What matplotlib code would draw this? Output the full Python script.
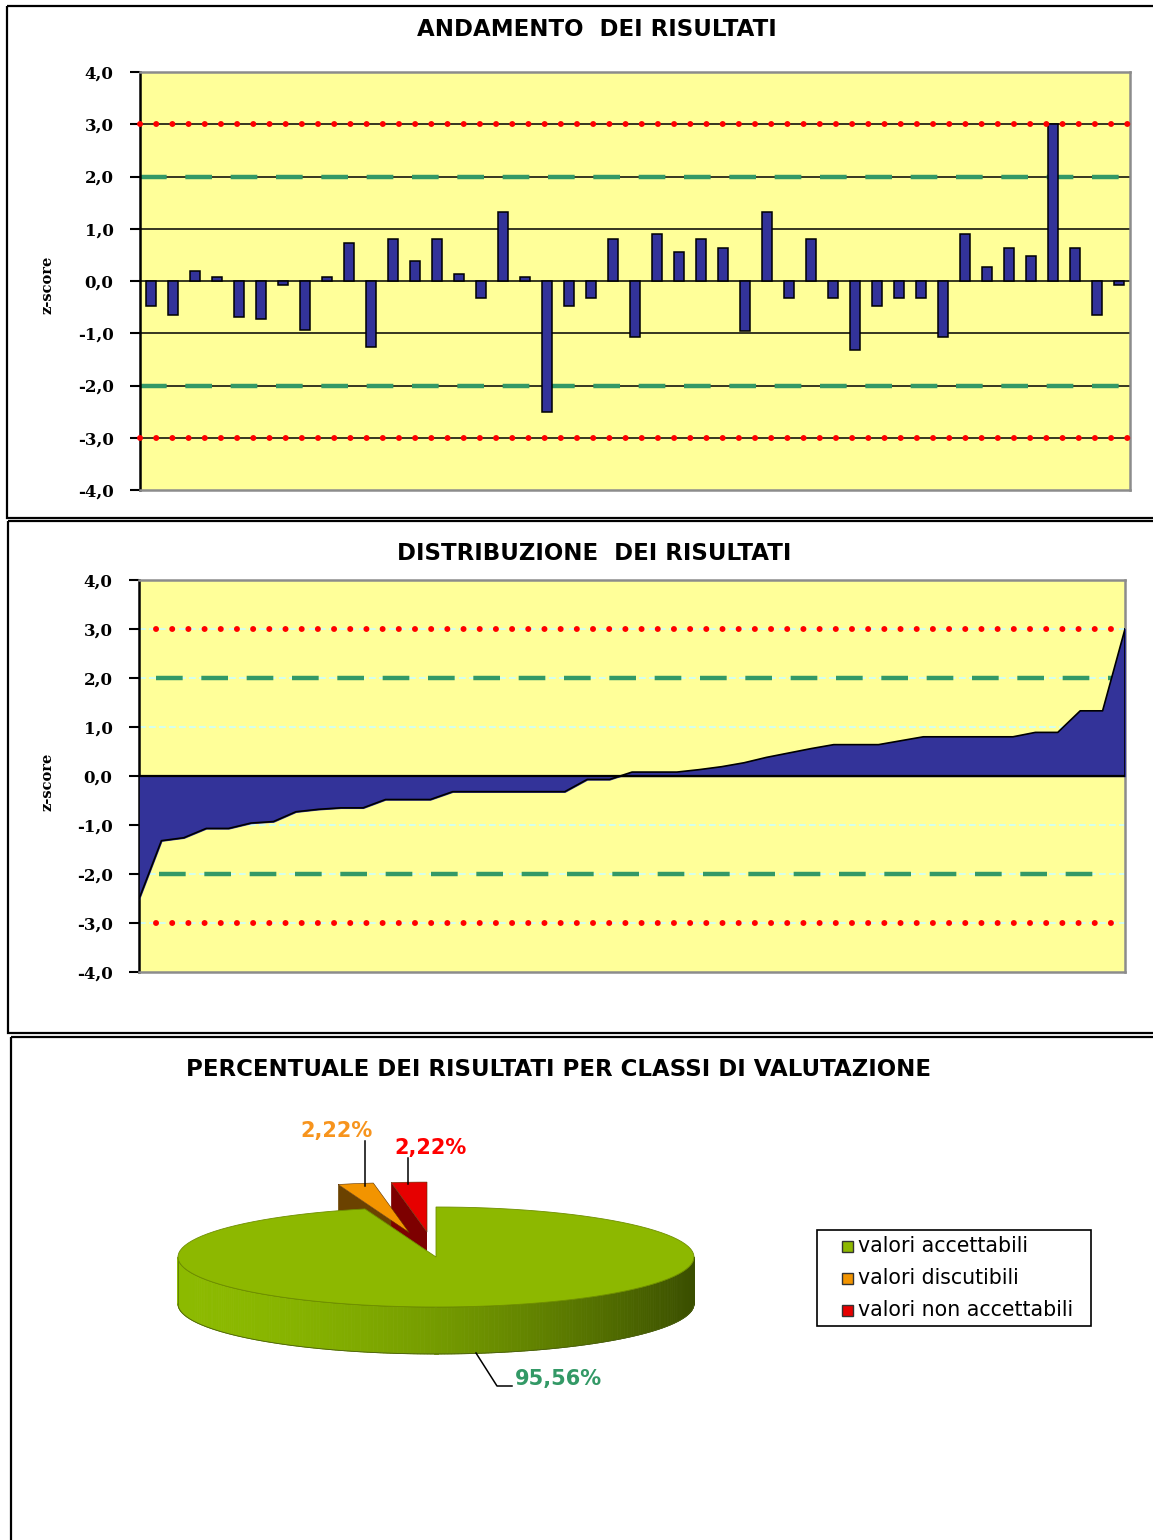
import numpy as np
import matplotlib.pyplot as plt
from matplotlib.patches import Rectangle, Polygon
from matplotlib.colors import to_rgb

# z-score per laboratorio (ordine di partecipazione)
z_scores = [-0.48, -0.65, 0.19, 0.08, -0.68, -0.73, -0.07, -0.93, 0.08, 0.72,
            -1.26, 0.80, 0.38, 0.80, 0.13, -0.32, 1.33, 0.08, -2.51, -0.48,
            -0.32, 0.80, -1.07, 0.89, 0.56, 0.80, 0.64, -0.96, 1.33, -0.32,
            0.80, -0.32, -1.32, -0.48, -0.32, -0.32, -1.07, 0.89, 0.27, 0.64,
            0.47, 3.00, 0.64, -0.65, -0.07]
y_ticks = [-4, -3, -2, -1, 0, 1, 2, 3, 4]

# classi di valutazione
classes = ["valori accettabili", "valori discutibili", "valori non accettabili"]
class_pct = [95.56, 2.22, 2.22]
class_colors = ["#8DB800", "#F29400", "#E60000"]
class_side = ["#6F9000", "#6B4200", "#7D0000"]
label_colors = ["#339966", "#F7941D", "#FF0000"]

W, H = 1153, 1540
fig = plt.figure(figsize=(W / 100, H / 100), dpi=100)

def px_axes(x0, y0, x1, y1, **kw):
    return fig.add_axes([x0 / W, 1 - y1 / H, (x1 - x0) / W, (y1 - y0) / H], **kw)

# sfondo a coordinate pixel: cornici, torta, legenda
bg = px_axes(0, 0, W, H, zorder=0)
bg.set_xlim(0, W)
bg.set_ylim(H, 0)
bg.axis("off")
for (x0, y0, x1, y1) in [(7, 6, 1170, 518), (8, 521, 1170, 1033), (11, 1037, 1170, 1560)]:
    bg.add_patch(Rectangle((x0, y0), x1 - x0, y1 - y0, fill=False, ec="black", lw=1.6))

title_kw = dict(ha="center", va="center", fontsize=16.5, fontweight="bold", family="DejaVu Sans")
bg.text(597, 30, "ANDAMENTO  DEI RISULTATI", **title_kw)
bg.text(594, 554, "DISTRIBUZIONE  DEI RISULTATI", **title_kw)
bg.text(558, 1069, "PERCENTUALE DEI RISULTATI PER CLASSI DI VALUTAZIONE", **title_kw)

tick_font = dict(family="DejaVu Serif", weight="bold", size=12)


def fmt(v):
    return f"{v:.1f}".replace(".", ",")


def pct(v):
    return f"{v:.2f}%".replace(".", ",")


def style_axes(ax):
    ax.set_facecolor("#FFFF99")
    ax.set_ylim(-4, 4)
    ax.set_yticks(y_ticks)
    ax.set_yticklabels([fmt(v) for v in y_ticks], fontdict=tick_font)
    ax.set_xticks([])
    ax.tick_params(axis="y", length=7, width=1.5, pad=12, direction="out")
    for s in ["top", "right", "bottom"]:
        ax.spines[s].set_color("#8C8C8C")
        ax.spines[s].set_linewidth(1.8)
    ax.spines["left"].set_color("black")
    ax.spines["left"].set_linewidth(1.8)


def limit_lines(ax, x0, x1, x0_low=None, x1_low=None):
    x0_low = x0 if x0_low is None else x0_low
    x1_low = x1 if x1_low is None else x1_low
    for y in (3, -3):
        ax.plot([x0, x1], [y, y], color="#FF0000", lw=4.3, ls=(0, (0.01, 2.7)),
                dash_capstyle="round", zorder=5, clip_on=False)
    ax.plot([x0, x1], [2, 2], color="#339966", lw=3.2, ls=(0, (6, 4.2)), zorder=2)
    ax.plot([x0_low, x1_low], [-2, -2], color="#339966", lw=3.2, ls=(0, (6, 4.2)), zorder=2)


# --- andamento dei risultati ---
ax1 = px_axes(140, 72, 1130, 490)
style_axes(ax1)
n = len(z_scores)
idx = np.arange(n)
ax1.set_xlim(-0.5, n - 0.5)
for y in y_ticks[1:-1]:
    ax1.axhline(y, color="black", lw=1.1, zorder=1)
ax1.bar(idx, z_scores, width=0.42, color="#333399", edgecolor="black", lw=1.1, zorder=3)
limit_lines(ax1, -0.5, n - 0.3)

# --- distribuzione dei risultati ---
ax2 = px_axes(139, 580, 1125, 972)
style_axes(ax2)
sorted_z = np.sort(z_scores)
ax2.set_xlim(0, n - 1)
for y in y_ticks[1:-1]:
    ax2.axhline(y, color="#CCFFFF", lw=1.2, ls=(0, (4, 2)), zorder=1)
ax2.fill_between(idx, sorted_z, 0, color="#333399", zorder=3)
ax2.plot(idx, sorted_z, color="black", lw=1.2, zorder=4)
ax2.plot([0, 0], [0, sorted_z[0]], color="black", lw=1.2, zorder=4)
ax2.plot([n - 1, n - 1], [0, sorted_z[-1]], color="black", lw=1.2, zorder=4)
ax2.axhline(0, color="black", lw=1.6, zorder=4)
limit_lines(ax2, 0.75, n - 1.1, 0.9, n - 1.75)

for yl in (285, 782):
    fig.text(47 / W, 1 - yl / H, "z-score", rotation=90, ha="center", va="center",
             family="DejaVu Serif", weight="bold", size=10.5)

# --- torta 3D ---
cx, cy, a, b, h = 436, 1257, 258, 50, 47
explode = 0.5
bounds = np.concatenate([[0], np.cumsum(class_pct) / sum(class_pct) * 2 * np.pi])


def rim(phi, dx=0.0, dy=0.0):
    return np.column_stack([cx + dx + a * np.sin(phi), cy + dy - b * np.cos(phi)])


def wedge_top(i, dx=0.0, dy=0.0):
    phi = np.linspace(bounds[i], bounds[i + 1], 120)
    return np.vstack([[cx + dx, cy + dy], rim(phi, dx, dy)])


# spicchi staccati (discutibili, non accettabili)
for i in (1, 2):
    mid = 0.5 * (bounds[i] + bounds[i + 1])
    dx = explode * a * np.sin(mid)
    dy = -explode * b * np.cos(mid)
    p_rim = rim(np.array([bounds[i]]), dx, dy)[0]
    face = [[cx + dx, cy + dy], p_rim, p_rim + [0, h], [cx + dx, cy + dy + h]]
    bg.add_patch(Polygon(face, closed=True, fc=class_side[i], ec="none", zorder=2))
    bg.add_patch(Polygon(wedge_top(i, dx, dy), closed=True, fc=class_colors[i],
                         ec="#5A3000", lw=0.4, zorder=3))

# parete laterale del settore principale con sfumatura
light = np.array(to_rgb("#8CBA00"))
dark = np.array(to_rgb("#3A4E00"))
phis = np.linspace(np.pi / 2, 3 * np.pi / 2, 240)
for p0, p1 in zip(phis[:-1], phis[1:]):
    q = rim(np.array([p0, p1]))
    t = ((q[:, 0].mean() - (cx - a)) / (2 * a))
    col = light + (dark - light) * np.clip(t, 0, 1) ** 1.8
    poly = [q[0], q[1], q[1] + [0, h], q[0] + [0, h]]
    bg.add_patch(Polygon(poly, closed=True, fc=col, ec=col, lw=0.6, zorder=4))
front = rim(phis)
bg.plot(front[:, 0], front[:, 1] + h, color="#4A5E10", lw=0.6, zorder=5)
bg.plot(front[:, 0], front[:, 1], color="#5E7A00", lw=0.6, zorder=5)
bg.plot([cx - a, cx - a], [cy, cy + h], color="#5E7A00", lw=0.6, zorder=5)
bg.plot([cx + a, cx + a], [cy, cy + h], color="#3A4E00", lw=0.6, zorder=5)
bg.add_patch(Polygon(wedge_top(0), closed=True, fc=class_colors[0], ec="#6F8F00",
                     lw=0.6, zorder=5))

# etichette percentuali con linee guida
lab_kw = dict(fontsize=15, fontweight="bold", family="DejaVu Sans", zorder=6)
bg.plot([365, 365], [1141, 1186], color="black", lw=1.1, zorder=6)
bg.text(336, 1131, pct(class_pct[1]), color=label_colors[1], ha="center", va="center", **lab_kw)
bg.plot([408, 408], [1158, 1184], color="black", lw=1.1, zorder=6)
bg.text(430, 1148, pct(class_pct[2]), color=label_colors[2], ha="center", va="center", **lab_kw)
bg.plot([476, 497, 512], [1353, 1386, 1386], color="black", lw=1.1, zorder=6)
bg.text(515, 1379, pct(class_pct[0]), color=label_colors[0], ha="left", va="center", **lab_kw)

# legenda
bg.add_patch(Rectangle((817, 1230), 274, 96, fill=False, ec="black", lw=1.2, zorder=6))
for k, (name, col) in enumerate(zip(classes, class_colors)):
    yy = 1246 + 32 * k
    bg.add_patch(Rectangle((842, yy - 5), 11, 11, fc=col, ec="#333333", lw=1, zorder=6))
    bg.text(858, yy + 0.5, name, ha="left", va="center", fontsize=14.8,
            family="DejaVu Sans", zorder=6)

fig.savefig("out.png", dpi=100)
